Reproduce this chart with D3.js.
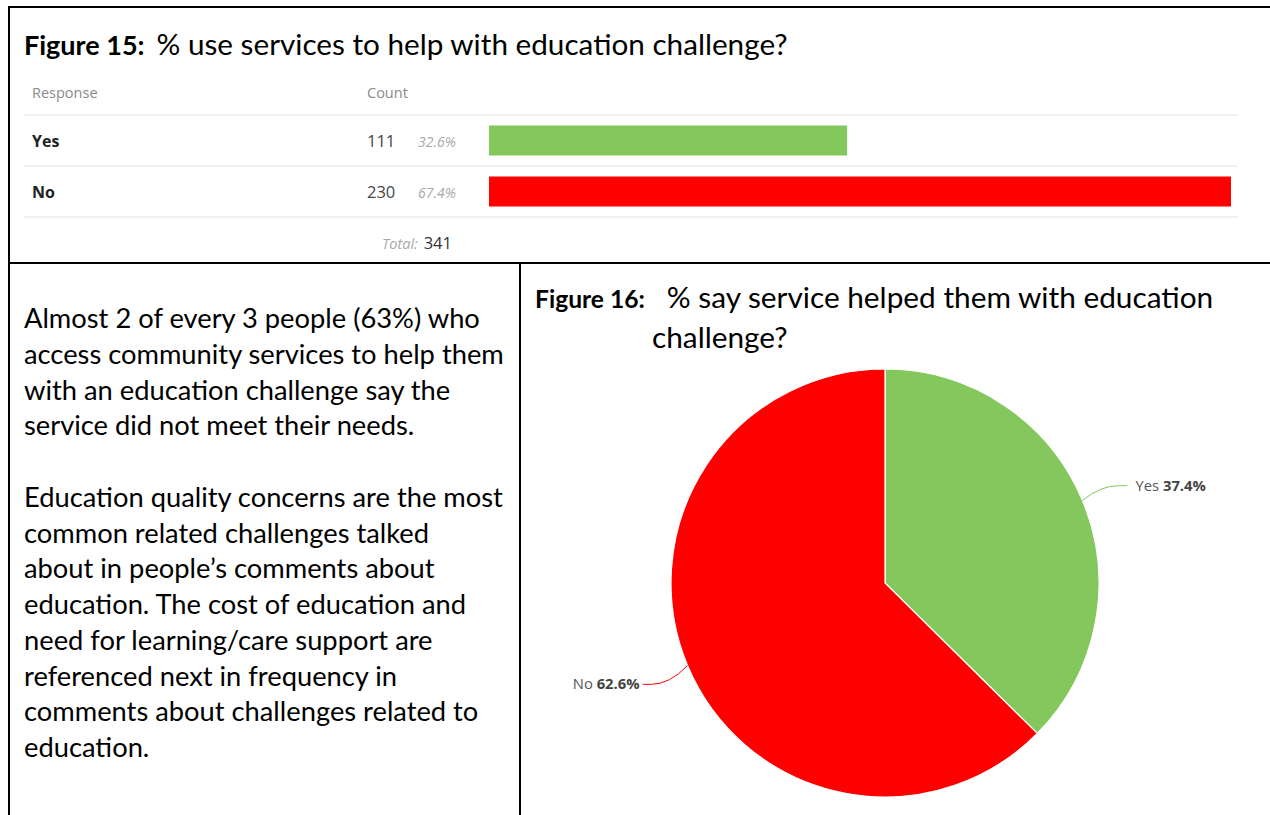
<!DOCTYPE html>
<html>
<head>
<meta charset="utf-8">
<script src="https://cdn.jsdelivr.net/npm/d3@7"></script>
<style>
  html, body { margin: 0; padding: 0; background: #fff; }
  svg { display: block; }
</style>
</head>
<body>
<svg id="chart" width="1270" height="815"></svg>
<script>
// ---- data ----
const barCategories = ["Yes", "No"];
const barCounts = [111, 230];
const barPercents = ["32.6%", "67.4%"];
const barTotal = 341;
const barColors = ["#83c75d", "#ff0000"];

const pieCategories = ["Yes", "No"];
const pieValues = [37.4, 62.6];
const pieColors = ["#83c75d", "#ff0000"];

const fig15Title = ["Figure 15:", "% use services to help with education challenge?"];
const fig16Title = ["Figure 16:", "% say service helped them with education", "challenge?"];
const paragraph = [
  "Almost 2 of every 3 people (63%) who",
  "access community services to help them",
  "with an education challenge say the",
  "service did not meet their needs.",
  "",
  "Education quality concerns are the most",
  "common related challenges talked",
  "about in people\u2019s comments about",
  "education. The cost of education and",
  "need for learning/care support are",
  "referenced next in frequency in",
  "comments about challenges related to",
  "education."
];

const svg = d3.select("#chart");
const docFont = "Lato, 'Open Sans', sans-serif";
const uiFont = "'Open Sans', 'Noto Sans', sans-serif";

// ---- frame lines ----
const frame = svg.append("g").attr("stroke", "#000").attr("stroke-width", 2);
frame.append("line").attr("x1", 9).attr("x2", 1270).attr("y1", 7).attr("y2", 7);
frame.append("line").attr("x1", 9).attr("x2", 9).attr("y1", 6).attr("y2", 815);
frame.append("line").attr("x1", 9).attr("x2", 1270).attr("y1", 263).attr("y2", 263);
frame.append("line").attr("x1", 520).attr("x2", 520).attr("y1", 263).attr("y2", 815);

// ---- Figure 15 title ----
const t15 = svg.append("text").attr("x", 24).attr("y", 55)
  .attr("font-family", docFont).attr("font-size", 29.7).attr("fill", "#000");
t15.append("tspan").attr("font-weight", "bold").attr("font-size", 27).text(fig15Title[0]);
t15.append("tspan").attr("dx", 12).text(fig15Title[1]);

// ---- Table / bar chart ----
const tbl = svg.append("g");
tbl.append("text").attr("x", 32).attr("y", 98).attr("font-family", uiFont)
  .attr("font-size", 14.5).attr("fill", "#8a8a8a").text("Response");
tbl.append("text").attr("x", 367).attr("y", 98).attr("font-family", uiFont)
  .attr("font-size", 14.5).attr("fill", "#8a8a8a").text("Count");

const rowY = d3.scaleBand().domain(barCategories).range([115, 217]);
const xBar = d3.scaleLinear().domain([0, d3.max(barCounts)]).range([489, 1231]);

[115, 166, 217].forEach(y => {
  tbl.append("line").attr("x1", 24).attr("x2", 1238).attr("y1", y).attr("y2", y)
    .attr("stroke", "#ececec").attr("stroke-width", 1.5);
});

const rows = tbl.selectAll("g.row").data(barCategories).join("g").attr("class", "row");
rows.append("text").attr("x", 32).attr("y", d => rowY(d) + rowY.bandwidth() / 2 + 6)
  .attr("font-family", uiFont).attr("font-size", 16).attr("font-weight", "bold")
  .attr("fill", "#222").text(d => d);
rows.append("text").attr("x", 367).attr("y", d => rowY(d) + rowY.bandwidth() / 2 + 6)
  .attr("font-family", uiFont).attr("font-size", 16.5).attr("fill", "#444")
  .text((d, i) => barCounts[i]);
rows.append("text").attr("x", 418).attr("y", d => rowY(d) + rowY.bandwidth() / 2 + 6)
  .attr("font-family", uiFont).attr("font-size", 14).attr("font-style", "italic")
  .attr("fill", "#a8a8a8").text((d, i) => barPercents[i]);
rows.append("rect").attr("x", xBar(0))
  .attr("y", d => rowY(d) + rowY.bandwidth() / 2 - 15)
  .attr("height", 30)
  .attr("width", (d, i) => xBar(barCounts[i]) - xBar(0))
  .attr("fill", (d, i) => barColors[i]);

const tot = tbl.append("text").attr("x", 382).attr("y", 249).attr("font-family", uiFont);
tot.append("tspan").attr("font-size", 14.5).attr("font-style", "italic").attr("fill", "#a8a8a8").text("Total:");
tot.append("tspan").attr("dx", 6).attr("font-size", 16.5).attr("fill", "#333").text(barTotal);

// ---- Paragraph ----
const para = svg.append("text").attr("font-family", docFont).attr("font-size", 27.3).attr("fill", "#000");
paragraph.forEach((line, i) => {
  para.append("tspan").attr("x", 24).attr("y", 328 + i * 35.75).text(line);
});

// ---- Figure 16 title ----
const t16 = svg.append("text").attr("x", 535).attr("y", 308)
  .attr("font-family", docFont).attr("font-size", 29.8).attr("fill", "#000");
t16.append("tspan").attr("font-weight", "bold").attr("font-size", 24.6).text(fig16Title[0]);
t16.append("tspan").attr("dx", 22).text(fig16Title[1]);
svg.append("text").attr("x", 652).attr("y", 348)
  .attr("font-family", docFont).attr("font-size", 29.8).attr("fill", "#000").text(fig16Title[2]);

// ---- Pie ----
const cx = 885, cy = 583, R = 214;
const pie = d3.pie().sort(null).value(d => d)(pieValues);
const arc = d3.arc().innerRadius(0).outerRadius(R);
const pg = svg.append("g").attr("transform", `translate(${cx},${cy})`);
pg.selectAll("path").data(pie).join("path")
  .attr("d", arc)
  .attr("fill", (d, i) => pieColors[i])
  .attr("stroke", "#fff").attr("stroke-width", 1.2);

// labels with connectors
pie.forEach((d, i) => {
  const a = (d.startAngle + d.endAngle) / 2;
  const sx = Math.sin(a), sy = -Math.cos(a);
  const right = sx > 0;
  const dir = right ? 1 : -1;
  const p0 = [sx * R, sy * R];
  const ly = sy * (R + 28) + (right ? -4 : 8);
  const p1 = [p0[0] + dir * 36, ly];
  const p2 = [p0[0] + dir * 45, ly];
  pg.append("path")
    .attr("d", `M${p0[0]},${p0[1]} Q${p0[0] + dir * 18},${ly} ${p1[0]},${p1[1]} L${p2[0]},${p2[1]}`)
    .attr("fill", "none").attr("stroke", pieColors[i]).attr("stroke-width", 1);
  const lt = pg.append("text")
    .attr("x", p2[0] + dir * (right ? 8 : 3))
    .attr("y", ly + 5)
    .attr("text-anchor", right ? "start" : "end")
    .attr("font-family", uiFont).attr("font-size", 14.8).attr("fill", "#555");
  lt.append("tspan").text(pieCategories[i] + " ");
  lt.append("tspan").attr("font-weight", "bold").attr("fill", "#444").text(pieValues[i].toFixed(1) + "%");
});
</script>
</body>
</html>
